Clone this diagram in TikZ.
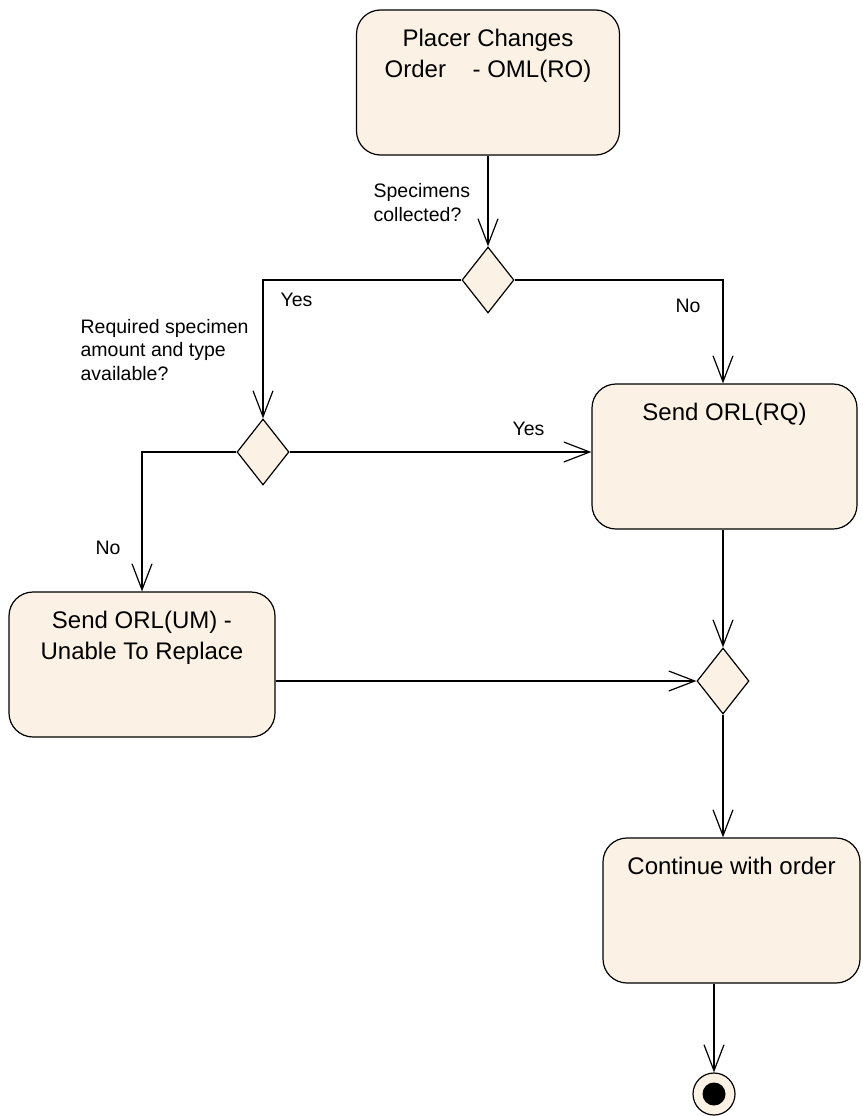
\documentclass[tikz,border=0pt]{standalone}
\usepackage{fontspec}
\setmainfont{Liberation Sans}
\usetikzlibrary{arrows.meta,shapes.geometric}
\definecolor{actfill}{RGB}{251,241,228}
\newcommand\bigtxt{\fontsize{24}{31}\selectfont}
\newcommand\smalltxt{\fontsize{19.5}{23.5}\selectfont}

\begin{document}
\begin{tikzpicture}[x=1pt,y=-1pt,line width=1.2pt,
  flow/.style={-{Straight Barb[length=26pt,width=20pt]}},
  % #1 width, #2 height, #3 drop from top edge to last baseline, #4 text
  act/.style n args={4}{draw, fill=actfill, rounded corners=24pt,
    minimum width=#1pt, minimum height=#2pt, inner sep=0pt,
    label={[anchor=base, yshift=-#3pt, align=center, font=\bigtxt]north:#4}},
  dec/.style={draw, fill=actfill, diamond, minimum width=52pt,
    minimum height=66pt, inner sep=0pt},
  note/.style={font=\smalltxt, align=left, anchor=base west, inner sep=0pt},
  final/.style={draw, fill=actfill, circle, minimum size=42pt, inner sep=0pt}]

\useasboundingbox (0,0) rectangle (862,1116);

% activities
\node[act={263}{145}{68}{Placer Changes\\Order\hspace{20pt} - OML(RO)}] (b1) at (488,82.5) {};
\node[act={265}{145}{37}{Send ORL(RQ)}] (b2) at (724.5,456.5) {};
\node[act={266}{145}{68}{Send ORL(UM) -\\Unable To Replace}] (b3) at (142,664.5) {};
\node[act={257}{145}{37}{Continue with order}] (b4) at (731.5,910.5) {};

% decisions
\node[dec] (d1) at (488,280) {};
\node[dec] (d2) at (263,452) {};
\node[dec] (d3) at (723,681) {};

% final state
\node[final] (fin) at (714,1094) {};
\fill (fin.center) circle (11.5pt);

% guards and questions (anchored at the last line's baseline)
\node[note] (qspec) at (373,221) {Specimens\\collected?};
\node[note] (yes1) at (280,306) {Yes};
\node[note] (no1) at (675,312) {No};
\node[note] (qreq) at (80,380) {Required specimen\\amount and type\\available?};
\node[note] (yes2) at (512,435) {Yes};
\node[note] (no2) at (95,554) {No};

% flows
\draw[flow] (b1.south) -- (d1.north);
\draw[flow] (d1.west) -| (d2.north);
\draw[flow] (d1.east) -| (b2.north -| d3.north);
\draw[flow] (d2.east) -- (d2.east -| b2.west);
\draw[flow] (d2.west) -| (b3.north);
\draw[flow] (b2.south -| d3.north) -- (d3.north);
\draw[flow] (d3.west -| b3.east) -- (d3.west);
\draw[flow] (d3.south) -- (d3.south |- b4.north);
\draw[flow] (b4.south -| fin.north) -- (fin.north);
\end{tikzpicture}
\end{document}
